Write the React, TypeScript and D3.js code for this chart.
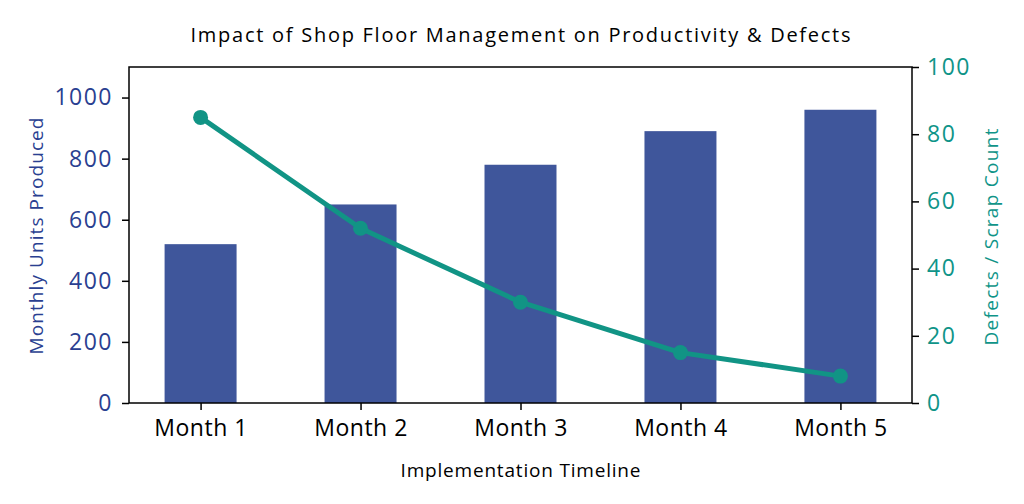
import { useEffect, useRef } from 'react';
import * as d3 from 'd3';

const months = ['Month 1', 'Month 2', 'Month 3', 'Month 4', 'Month 5'];
const unitsProduced = [520, 650, 780, 890, 960];
const defects = [85, 52, 30, 15, 8];
const leftTicks = [0, 200, 400, 600, 800, 1000];
const rightTicks = [0, 20, 40, 60, 80, 100];

const BAR_COLOR = '#3f569b';
const LINE_COLOR = '#119485';
const LEFT_TEXT = '#2a3f91';
const RIGHT_TEXT = '#0f9488';
const FONT = '"Open Sans", "DejaVu Sans", sans-serif';

export default function App() {
  const svgRef = useRef<SVGSVGElement>(null);

  useEffect(() => {
    if (!svgRef.current) return;
    const width = 1024;
    const height = 504;
    const margin = { top: 67, right: 112, bottom: 101, left: 129 };
    const w = width - margin.left - margin.right;
    const h = height - margin.top - margin.bottom;

    const svg = d3.select(svgRef.current);
    svg.selectAll('*').remove();

    const g = svg.append('g').attr('transform', `translate(${margin.left},${margin.top})`);

    // matplotlib-like bar layout: width 0.45, 5% margins
    const barW = 0.45;
    const span = months.length - 1 + barW;
    const pad = span * 0.05;
    const x = d3.scaleLinear()
      .domain([-barW / 2 - pad, months.length - 1 + barW / 2 + pad])
      .range([0, w]);
    const yL = d3.scaleLinear().domain([0, 1100]).range([h, 0]);
    const yR = d3.scaleLinear().domain([0, 100]).range([h, 0]);

    // Bars
    g.selectAll('rect.bar')
      .data(unitsProduced)
      .join('rect')
      .attr('class', 'bar')
      .attr('x', (_, i) => x(i - barW / 2))
      .attr('width', x(barW) - x(0))
      .attr('y', d => yL(d))
      .attr('height', d => h - yL(d))
      .attr('fill', BAR_COLOR);

    // Axes
    const styleAxis = (sel: d3.Selection<SVGGElement, unknown, null, undefined>, color: string, spacing: number) => {
      sel.select('.domain').remove();
      sel.selectAll('.tick line').attr('stroke', '#000').attr('stroke-width', 1.5);
      sel.selectAll('.tick text')
        .attr('fill', color)
        .attr('font-size', '23px')
        .attr('letter-spacing', spacing)
        .attr('font-family', FONT);
    };

    const xAxis = g.append('g')
      .attr('transform', `translate(0,${h})`)
      .call(d3.axisBottom(x).tickValues(d3.range(months.length)).tickFormat(d => months[d as number]).tickSize(7).tickPadding(10));
    styleAxis(xAxis, '#000', 0.5);

    const leftAxis = g.append('g')
      .call(d3.axisLeft(yL).tickValues(leftTicks).tickFormat(d3.format('d')).tickSize(7).tickPadding(9));
    styleAxis(leftAxis, LEFT_TEXT, 1.5);

    const rightAxis = g.append('g')
      .attr('transform', `translate(${w},0)`)
      .call(d3.axisRight(yR).tickValues(rightTicks).tickFormat(d3.format('d')).tickSize(7).tickPadding(8));
    styleAxis(rightAxis, RIGHT_TEXT, 1.5);

    // Frame
    g.append('rect')
      .attr('width', w).attr('height', h)
      .attr('fill', 'none')
      .attr('stroke', '#000')
      .attr('stroke-width', 1.5);

    // Line
    const line = d3.line<number>()
      .x((_, i) => x(i))
      .y(d => yR(d));
    g.append('path')
      .datum(defects)
      .attr('fill', 'none')
      .attr('stroke', LINE_COLOR)
      .attr('stroke-width', 5)
      .attr('stroke-linejoin', 'round')
      .attr('d', line);
    g.selectAll('circle.pt')
      .data(defects)
      .join('circle')
      .attr('class', 'pt')
      .attr('cx', (_, i) => x(i))
      .attr('cy', d => yR(d))
      .attr('r', 7.5)
      .attr('fill', LINE_COLOR);

    // Labels
    const label = (txt: string, tx: number, ty: number, rot: number, size: number, len: number, color: string) => {
      svg.append('text')
        .attr('transform', `translate(${tx},${ty}) rotate(${rot})`)
        .attr('text-anchor', 'middle')
        .attr('font-size', `${size}px`)
        .attr('font-family', FONT)
        .attr('fill', color)
        .attr('textLength', len)
        .attr('lengthAdjust', 'spacing')
        .text(txt);
    };

    label('Impact of Shop Floor Management on Productivity & Defects', margin.left + w / 2, 42, 0, 20, 660, '#000');
    label('Implementation Timeline', margin.left + w / 2, 477, 0, 19, 240, '#000');
    label('Monthly Units Produced', 43, 236, -90, 19, 237, LEFT_TEXT);
    label('Defects / Scrap Count', 998, 237, -90, 19, 217, RIGHT_TEXT);
  }, []);

  return (
    <div style={{ position: 'absolute', left: 0, top: 0 }}>
      <svg ref={svgRef} width={1024} height={504} style={{ display: 'block', background: '#fff' }} />
    </div>
  );
}
